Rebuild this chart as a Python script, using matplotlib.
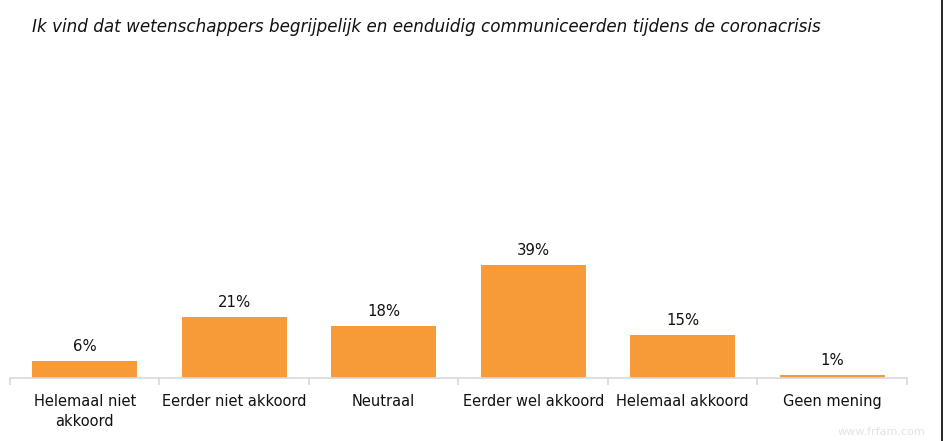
import matplotlib
matplotlib.use("Agg")
import matplotlib.pyplot as plt
from matplotlib.lines import Line2D
import numpy as np

categories = ["Helemaal niet\nakkoord", "Eerder niet akkoord", "Neutraal",
              "Eerder wel akkoord", "Helemaal akkoord", "Geen mening"]
values = [6, 21, 18, 39, 15, 1]
value_labels = ["6%", "21%", "18%", "39%", "15%", "1%"]
title = "Ik vind dat wetenschappers begrijpelijk en eenduidig communiceerden tijdens de coronacrisis"

W, H = 945, 441
fig = plt.figure(figsize=(W / 100, H / 100), dpi=100)
ax = fig.add_axes([10 / W, 63 / H, 897 / W, (378 - 88) / H])

x = np.arange(len(categories))
bar_color = "#F79A38"
ax.bar(x, values, width=0.7, color=bar_color)
ax.set_xlim(-0.5, len(categories) - 0.5)
ax.set_ylim(0, 100)

for xi, v, lab in zip(x, values, value_labels):
    ax.annotate(lab, (xi, v), xytext=(0, 5), textcoords="offset points",
                ha="center", va="bottom", fontsize=10.7, color="#111111")

for s in ["top", "right", "left"]:
    ax.spines[s].set_visible(False)
ax.spines["bottom"].set_color("#D9D9D9")
ax.spines["bottom"].set_linewidth(1.2)
ax.set_yticks([])
ax.set_xticks(x)
ax.set_xticklabels(categories, fontsize=10.5, color="#111111", linespacing=1.45, va="top")
ax.tick_params(axis="x", which="major", length=0, pad=11.5)
ax.set_xticks(np.arange(-0.5, len(categories), 1), minor=True)
ax.tick_params(axis="x", which="minor", length=5, width=1.2, color="#D9D9D9", direction="out")

fig.text(32 / W, 1 - 27 / H, title, fontsize=12.1, style="italic",
         family="DejaVu Sans", ha="left", va="center", color="#111111")

fig.text(925 / W, 1 - 432 / H, "www.frfam.com", fontsize=8, color="#E3E3E3", ha="right", va="center")

fig.add_artist(Line2D([942.5 / W, 942.5 / W], [0, 1], color="black", lw=1.2, transform=fig.transFigure))

fig.savefig("out.png", dpi=100, facecolor="white")
